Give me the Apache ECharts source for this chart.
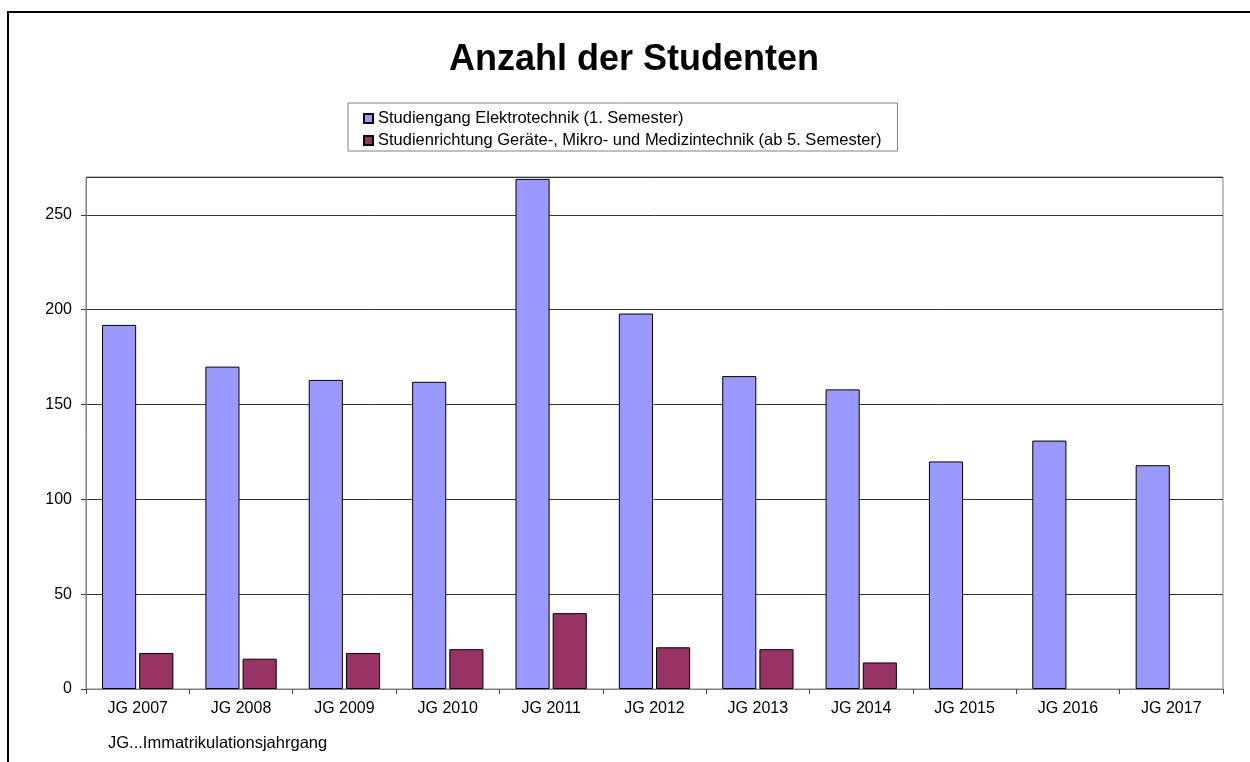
<!DOCTYPE html>
<html>
<head>
<meta charset="utf-8">
<script src="https://cdn.jsdelivr.net/npm/echarts@6/dist/echarts.min.js"></script>
<style>html,body{margin:0;padding:0;background:#fff;}#c{width:1250px;height:762px;}</style>
</head>
<body>
<div id="c"></div>
<script>
var categories = ['JG 2007','JG 2008','JG 2009','JG 2010','JG 2011','JG 2012','JG 2013','JG 2014','JG 2015','JG 2016','JG 2017'];
var elektrotechnik = [192,170,163,162,269,198,165,158,120,131,118];
var medizintechnik = [19,16,19,21,40,22,21,14,null,null,null];
var seriesNames = ['Studiengang Elektrotechnik (1. Semester)','Studienrichtung Geräte-, Mikro- und Medizintechnik (ab 5. Semester)'];
var titleText = 'Anzahl der Studenten';
var footnote = 'JG...Immatrikulationsjahrgang';

var FONT = '"Liberation Sans", Arial, sans-serif';
var chart = echarts.init(document.getElementById('c'), null, {renderer:'canvas'});
chart.setOption({
  animation: false,
  backgroundColor: '#fff',
  textStyle: {fontFamily: FONT, color: '#000'},
  title: {
    text: titleText, left: 449, top: 42, padding: 0,
    textStyle: {fontSize: 36, fontWeight: 'bold', color: '#000', fontFamily: FONT}
  },
  legend: {
    orient: 'vertical', left: 348, top: 103,
    padding: [7, 16, 2, 15],
    borderColor: '#808080', borderWidth: 1,
    icon: 'rect',
    itemWidth: 9, itemHeight: 9, itemGap: 5, itemTextGap: 4,
    textStyle: {fontSize: 16.5, lineHeight: 17, color: '#000', fontFamily: FONT},
    data: seriesNames
  },
  grid: {left: 86, top: 177, right: 27, bottom: 73, show: true, borderColor: '#808080', borderWidth: 1, containLabel: false},
  xAxis: {
    type: 'category', data: categories,
    axisLine: {lineStyle: {color: '#808080', width: 1}},
    axisTick: {show: true, length: 5, lineStyle: {color: '#404040'}},
    axisLabel: {fontSize: 16, color: '#000', margin: 12, fontFamily: FONT, interval: 0},
    splitLine: {show: false}
  },
  yAxis: {
    type: 'value', min: 0, max: 270, interval: 50,
    axisLine: {show: true, lineStyle: {color: '#808080', width: 1}},
    axisTick: {show: true, length: 5, lineStyle: {color: '#404040'}},
    axisLabel: {fontSize: 16, color: '#000', margin: 14, fontFamily: FONT,
      showMaxLabel: false},
    splitLine: {show: true, lineStyle: {color: '#333', width: 1}}
  },
  series: [
    {name: seriesNames[0], type: 'bar', data: elektrotechnik,
     barCategoryGap: '31%', barGap: '9%',
     itemStyle: {color: '#9999FF', borderColor: '#000', borderWidth: 1}},
    {name: seriesNames[1], type: 'bar', data: medizintechnik,
     itemStyle: {color: '#993366', borderColor: '#000', borderWidth: 1}}
  ],
  graphic: [
    {type: 'rect', shape: {x: 8, y: 12, width: 1400, height: 900}, style: {fill: 'none', stroke: '#000', lineWidth: 2}, silent: true, z: 100},
    {type: 'text', left: 108, top: 735, style: {text: footnote, fontSize: 16.5, fill: '#000', fontFamily: FONT}}
  ]
});
</script>
</body>
</html>
